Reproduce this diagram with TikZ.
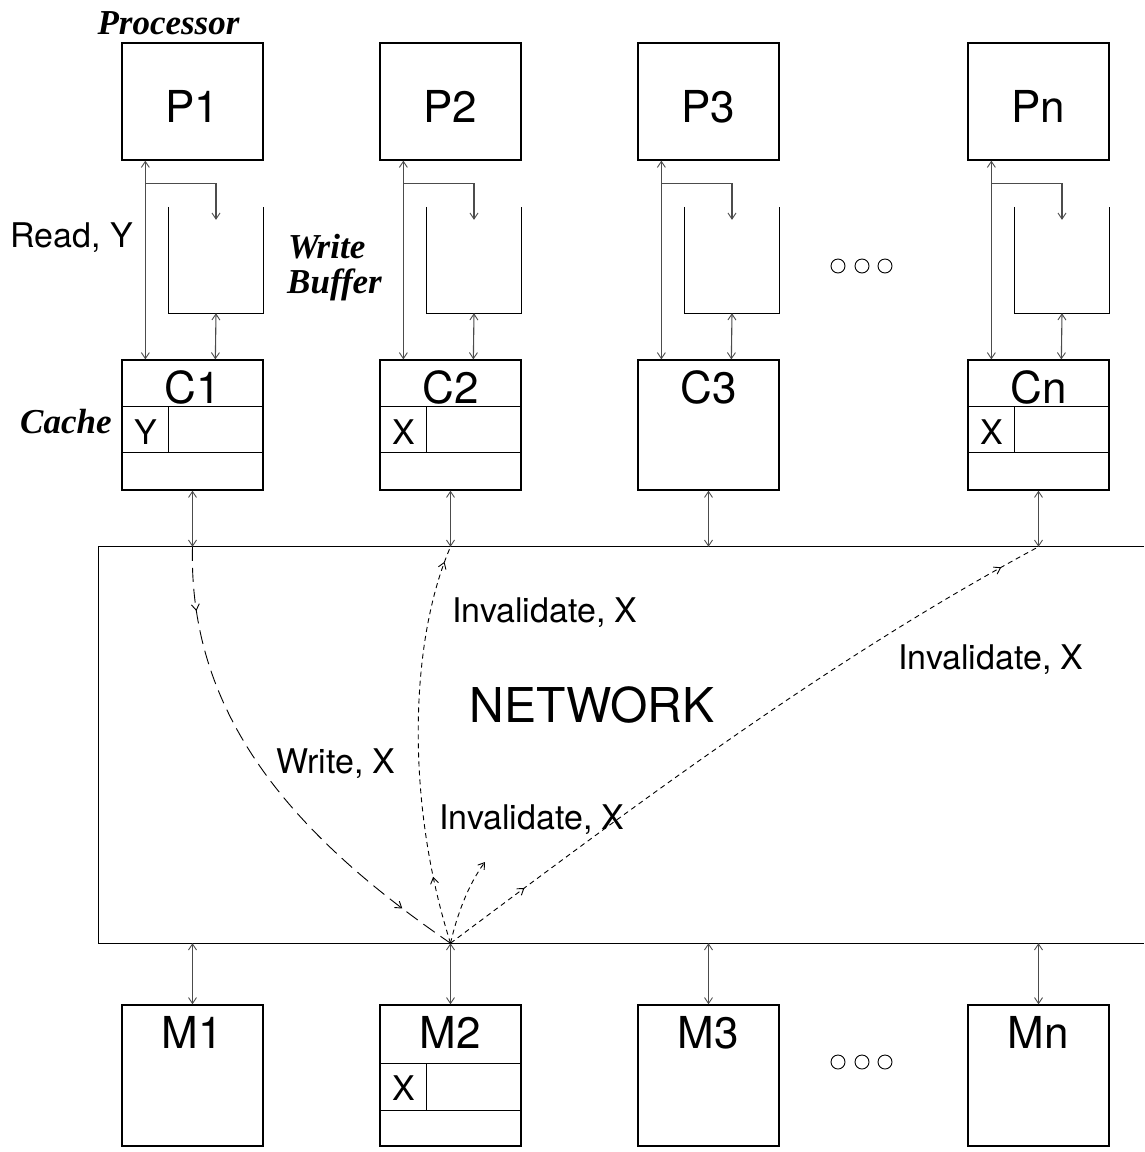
\documentclass[tikz,border=0pt]{standalone}
\usepackage{fontspec}
\setmainfont{TeX Gyre Heros}
\newfontfamily\tagfont{Liberation Serif}
\usetikzlibrary{arrows.meta,decorations.markings}

\tikzset{
  tip/.tip={Straight Barb[length=6pt,width=8pt,line width=0.9pt]},
  box/.style={draw, line width=1.3pt, inner sep=0pt, minimum width=141pt},
  conn/.style={line width=1.1pt, draw=black!70},
  big/.style={font=\fontsize{44}{48}\selectfont, inner sep=0pt, anchor=base},
  small/.style={font=\fontsize{34}{38}\selectfont, inner sep=0pt},
  tag/.style={font=\tagfont\bfseries\itshape\fontsize{35}{38}\selectfont, inner sep=0pt, anchor=base west},
  longdash/.style={line width=0.9pt, dash pattern=on 14pt off 7pt},
  shortdash/.style={line width=0.9pt, dash pattern=on 5pt off 4pt},
  midarr/.style={postaction={decorate, decoration={markings,
      mark=at position #1 with {\arrow{tip}}}}},
  dot/.style={draw, circle, line width=0.9pt, minimum size=14pt, inner sep=0pt}
}

\begin{document}
\begin{tikzpicture}[x=1pt, y=-1pt]
\useasboundingbox (0,0) rectangle (1144,1152);

% network block, open on the right
\node[inner sep=0pt, minimum width=1045pt, minimum height=396pt] (net) at (621.5,745) {};
\draw[line width=1.3pt] (net.north east) -- (net.north west) -- (net.south west) -- (net.south east);
\node[font=\fontsize{48}{52}\selectfont, inner sep=0pt, anchor=base] (nettext) at (592,722) {NETWORK};

% one column per processor / cache / memory module
\foreach \i/\L/\pl/\cl/\ml in {1/122/P1/C1/M1, 2/380/P2/C2/M2, 3/638/P3/C3/M3, n/968/Pn/Cn/Mn} {
  % processor
  \node[box, minimum height=117pt] (p\i) at (\L+70.5,101.5) {};
  \node[big] (pt\i) at (\L+70.5,122) {\pl};
  % write buffer (open at the top)
  \node[inner sep=0pt, minimum width=94pt, minimum height=106pt] (b\i) at (\L+94,260) {};
  \draw[line width=1.3pt] (b\i.north west) |- (b\i.south east) -- (b\i.north east);
  % cache
  \node[box, minimum height=130pt] (c\i) at (\L+70.5,425) {};
  \node[big] (ct\i) at (\L+70.5,403) {\cl};
  % memory module
  \node[box, minimum height=141pt] (m\i) at (\L+70.5,1075.5) {};
  \node[big] (mt\i) at (\L+70.5,1048) {\ml};
  % processor <-> cache
  \draw[conn, tip-tip] ([xshift=24pt]p\i.south west) -- ([xshift=24pt]c\i.north west);
  % processor -> write buffer
  \draw[conn, -tip] ([xshift=24pt,yshift=-23pt]p\i.south west) -| ([yshift=-13pt]b\i.north);
  % write buffer <-> cache
  \draw[conn, tip-tip] (b\i.south) -- ([xshift=94pt]c\i.north west);
  % cache <-> network
  \draw[conn, tip-tip] (c\i.south) -- (c\i.south |- net.north);
  \coordinate (top\i) at (c\i.south |- net.north);
  % network <-> memory
  \draw[conn, tip-tip] (m\i.north |- net.south) -- (m\i.north);
}

% cache lines holding data
\foreach \i in {1,2,n} {
  \draw[line width=1.3pt] ([yshift=-47pt]c\i.north west) -- ([yshift=-47pt]c\i.north east);
  \draw[line width=1.3pt] ([yshift=-93pt]c\i.north west) -- ([yshift=-93pt]c\i.north east);
  \draw[line width=1.3pt] ([xshift=47pt,yshift=-47pt]c\i.north west) -- ([xshift=47pt,yshift=-93pt]c\i.north west);
}
\node[small, anchor=base] (cy1) at (145.5,444) {Y};
\node[small, anchor=base] (cx2) at (403.5,444) {X};
\node[small, anchor=base] (cxn) at (991.5,444) {X};

% memory line holding X
\draw[line width=1.3pt] ([yshift=-59pt]m2.north west) -- ([yshift=-59pt]m2.north east);
\draw[line width=1.3pt] ([yshift=-106pt]m2.north west) -- ([yshift=-106pt]m2.north east);
\draw[line width=1.3pt] ([xshift=47pt,yshift=-59pt]m2.north west) -- ([xshift=47pt,yshift=-106pt]m2.north west);
\node[small, anchor=base] (mx2) at (403.5,1100) {X};

% ellipsis marks
\foreach \k/\y in {a/266, b/1062} {
  \node[dot] (e1\k) at (838,\y) {};
  \node[dot] (e2\k) at (862,\y) {};
  \node[dot] (e3\k) at (885,\y) {};
}

% role labels
\node[tag, anchor=base] (proc) at (168.5,34) {Processor};
\node[tag] (wb1) at (288,258) {Write};
\node[tag] (wb2) at (287,293) {Buffer};
\node[tag] (cache) at (20,433) {Cache};
\node[small, anchor=base west] (read) at (10,247) {Read, Y};

% coherence traffic through the network
\coordinate (hub) at (m2.north |- net.south);
\coordinate (side) at (485,862);
\draw[longdash, midarr=0.13, midarr=0.88] (top1) .. controls (188,720) and (300,840) .. (hub);
\draw[shortdash, midarr=0.17, midarr=0.96] (hub) .. controls (405,800) and (410,640) .. (top2);
\draw[shortdash, -tip] (hub) .. controls (457,915) and (468,885) .. (side);
\draw[shortdash, midarr=0.13, midarr=0.94] (hub) .. controls (651,793) and (837,655) .. (topn);

\node[small, anchor=base west] (wx) at (276,773) {Write, X};
\node[small, anchor=base west] (inv1) at (452,622) {Invalidate, X};
\node[small, anchor=base west] (inv2) at (898,669) {Invalidate, X};
\node[small, anchor=base west] (inv3) at (439,829) {Invalidate, X};
\end{tikzpicture}
\end{document}
